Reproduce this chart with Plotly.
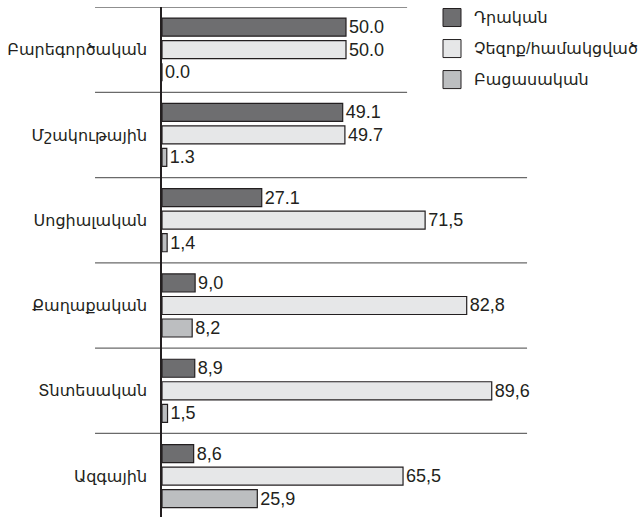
import plotly.graph_objects as go

categories = ["Բարեգործական", "Մշակութային", "Սոցիալական", "Քաղաքական", "Տնտեսական", "Ազգային"]
series_names = ["Դրական", "Չեզոք/համակցված", "Բացասական"]
positive = [50.0, 49.1, 27.1, 9.0, 8.9, 8.6]
neutral = [50.0, 49.7, 71.5, 82.8, 89.6, 65.5]
negative = [0.0, 1.3, 1.4, 8.2, 1.5, 25.9]
positive_labels = ["50.0", "49.1", "27.1", "9,0", "8,9", "8,6"]
neutral_labels = ["50.0", "49.7", "71,5", "82,8", "89,6", "65,5"]
negative_labels = ["0.0", "1.3", "1,4", "8,2", "1,5", "25,9"]

colors = ["#6e6e70", "#e6e7e8", "#bcbec0"]
outline = "#231f20"
FONT = "Liberation Sans, Arial, DejaVu Sans, sans-serif"

fig = go.Figure()
for name, vals, labels, col in zip(series_names,
                                   [positive, neutral, negative],
                                   [positive_labels, neutral_labels, negative_labels],
                                   colors):
    fig.add_trace(go.Bar(
        y=categories, x=vals, name=name, orientation="h",
        marker=dict(color=col, line=dict(color=outline, width=1.2)),
        text=labels, textposition="outside", constraintext="none",
        textfont=dict(color="#231f20", size=18, family=FONT),
        cliponaxis=False, showlegend=False,
    ))

n = len(categories)
T, B = 7.5, 517.0
H = B - T
shapes = []
# separators between category groups
for i in range(n):
    yb = i - 0.5
    x1 = 0.666 if i < 2 else 0.992
    shapes.append(dict(type="line", xref="paper", yref="y", x0=-0.182, x1=x1,
                       y0=yb, y1=yb, line=dict(color="#6a6a6a", width=1.3), layer="below"))

# custom legend
annotations = []
leg_y = [18, 49, 80]
for name, col, yy in zip(series_names, colors, leg_y):
    shapes.append(dict(type="rect", xref="paper", yref="paper",
                       x0=(443 - 162) / 368, x1=(461 - 162) / 368,
                       y0=1 - (yy - 9 - T) / H, y1=1 - (yy + 9 - T) / H,
                       fillcolor=col, line=dict(color=outline, width=1)))
    annotations.append(dict(xref="paper", yref="paper", x=(472 - 162) / 368,
                            y=1 - (yy - T) / H, text=name, showarrow=False,
                            xanchor="left", yanchor="middle",
                            font=dict(size=16, color="#231f20", family=FONT)))

fig.update_layout(
    width=644, height=517,
    margin=dict(l=162, r=114, t=7, b=0, autoexpand=False),
    paper_bgcolor="white", plot_bgcolor="white",
    barmode="group", bargap=0.208, bargroupgap=0.2,
    font=dict(family=FONT, size=16, color="#231f20"),
    xaxis=dict(range=[0, 100], visible=False, showgrid=False, zeroline=False,
               automargin=False),
    yaxis=dict(range=[n - 0.52, -0.5], type="category", showgrid=False, zeroline=False,
               automargin=False,
               showline=True, linecolor="#231f20", linewidth=1.5,
               ticks="", ticklabelstandoff=10,
               tickfont=dict(size=16, color="#231f20", family=FONT)),
    shapes=shapes, annotations=annotations,
)

fig.write_html("out.html", config={"displayModeBar": False},
               post_script="document.body.style.margin='0';document.body.style.overflow='hidden';")
